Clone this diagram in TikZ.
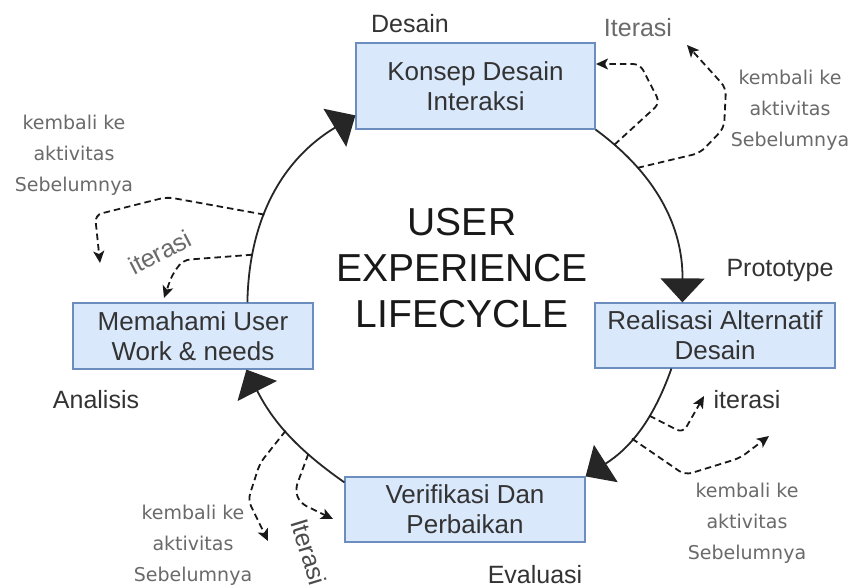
\documentclass[tikz,border=0pt]{standalone}
\usepackage{fontspec}
\setmainfont{Liberation Sans}
\newfontfamily\grayfont{DejaVu Sans}
\usetikzlibrary{arrows.meta,calc}
\definecolor{boxfill}{HTML}{DAE8FC}
\definecolor{boxdraw}{HTML}{6C8EBF}
\definecolor{txt}{HTML}{333333}
\definecolor{graytxt}{HTML}{6A6A6A}
\tikzset{
  box/.style={draw=boxdraw, fill=boxfill, line width=1.2pt, inner sep=0pt, align=center,
    text=txt, font=\fontsize{26}{30}\selectfont, minimum width=240pt, minimum height=65pt},
  cyc/.style={draw=black!85, line width=1.8pt, -{Triangle[length=24pt,width=44pt]}},
  dline/.style={draw=black!90, line width=1.8pt, dash pattern=on 6.5pt off 4pt, rounded corners=7pt,
    -{Stealth[length=12pt,width=11pt,inset=3pt]}},
  gtext/.style={text=graytxt, font=\grayfont\fontsize{19}{31}\selectfont, align=center, inner sep=0pt},
  lbl/.style={text=txt, font=\fontsize{25}{30}\selectfont, inner sep=0pt},
  glbl/.style={text=graytxt, font=\fontsize{25}{30}\selectfont, inner sep=0pt},
  big/.style={text=black!90, font=\fontsize{39}{46}\selectfont, align=center, inner sep=0pt}
}
\begin{document}
\begin{tikzpicture}[x=1pt,y=1pt]
\useasboundingbox (0,0) rectangle (853,-588);
\fill[white] (0,0) rectangle (853,-588);

% boxes
\node[box, minimum width=239pt, minimum height=86pt] (konsep) at (475.5,-86) {Konsep Desain\\Interaksi};
\node[box] (realisasi) at (715,-335.5) {Realisasi Alternatif\\Desain};
\node[box, minimum height=66pt] (memahami) at (193,-336) {Memahami User\\Work \& needs};
\node[box] (verifikasi) at (465,-509.5) {Verifikasi Dan\\Perbaikan};

% cycle connectors, with points on them where the dashed arrows start
\draw[cyc] (konsep.south east) to[bend left=27]
   coordinate[pos=0.11] (p1) coordinate[pos=0.27] (p2)
   ($(realisasi.north west)+(88,0)$);
\draw[cyc] ($(realisasi.south west)+(77,0)$) to[bend left=19]
   coordinate[pos=0.36] (p3) coordinate[pos=0.58] (p4)
   (verifikasi.north east);
\draw[cyc] ($(verifikasi.north west)+(0,-6)$) to[bend left=14]
   coordinate[pos=0.52] (p7) coordinate[pos=0.29] (p8)
   ($(memahami.south west)+(174,0)$);
\draw[cyc] ($(memahami.north west)+(175,0)$) to[bend left=29]
   coordinate[pos=0.39] (p5) coordinate[pos=0.20] (p6)
   ($(konsep.north west)+(0,-73)$);

% big title
\node[big] (title) at (462,-268) {USER\\EXPERIENCE\\LIFECYCLE};

% phase labels
\node[lbl] (ldesain) at (410,-24) {Desain};
\node[lbl] (lproto) at (780,-270) {Prototype};
\node[lbl] (lanalisis) at (96,-400) {Analisis};
\node[lbl] (levaluasi) at (535,-575) {Evaluasi};

% iteration labels
\node[glbl] (it1) at (638,-28) {Iterasi};
\node[lbl] (it2) at (747,-400) {iterasi};
\node[glbl, rotate=27] (it3) at (160,-252) {iterasi};
\node[glbl, text=black!70, rotate=-73] (it4) at (309,-552) {Iterasi};

% back-to-previous labels
\node[gtext] (gk1) at (790,-110) {kembali ke\\aktivitas\\Sebelumnya};
\node[gtext] (gk2) at (747,-523) {kembali ke\\aktivitas\\Sebelumnya};
\node[gtext] (gk3) at (74,-155) {kembali ke\\aktivitas\\Sebelumnya};
\node[gtext] (gk4) at (193,-545) {kembali ke\\aktivitas\\Sebelumnya};

% free ends
\coordinate (e1) at (596,-64);
\coordinate (e2) at (687,-45);
\coordinate (e3) at (704,-396);
\coordinate (e4) at (769,-436);
\coordinate (e5) at (100,-263);
\coordinate (e6) at (164,-298);
\coordinate (e7) at (268,-541);
\coordinate (e8) at (333,-519);

% dashed iteration arrows
\draw[dline] (p1) -- (660,-103) -- (640,-64) -- (e1);
\draw[dline] (p2) -- (700,-153) -- (724,-128) -- (726,-88) -- (e2);
\draw[dline] (p3) -- (683,-433) -- (e3);
\draw[dline] (p4) -- (685,-475) -- (740,-458) -- (e4);
\draw[dline] (p5) -- (167,-197) -- (95,-215) -- (e5);
\draw[dline] (p6) -- (183,-260) -- (172,-275) -- (e6);
\draw[dline] (p7) -- (260,-463) -- (248,-500) -- (e7);
\draw[dline] (p8) -- (295,-490) -- (300,-503) -- (e8);
\end{tikzpicture}
\end{document}
